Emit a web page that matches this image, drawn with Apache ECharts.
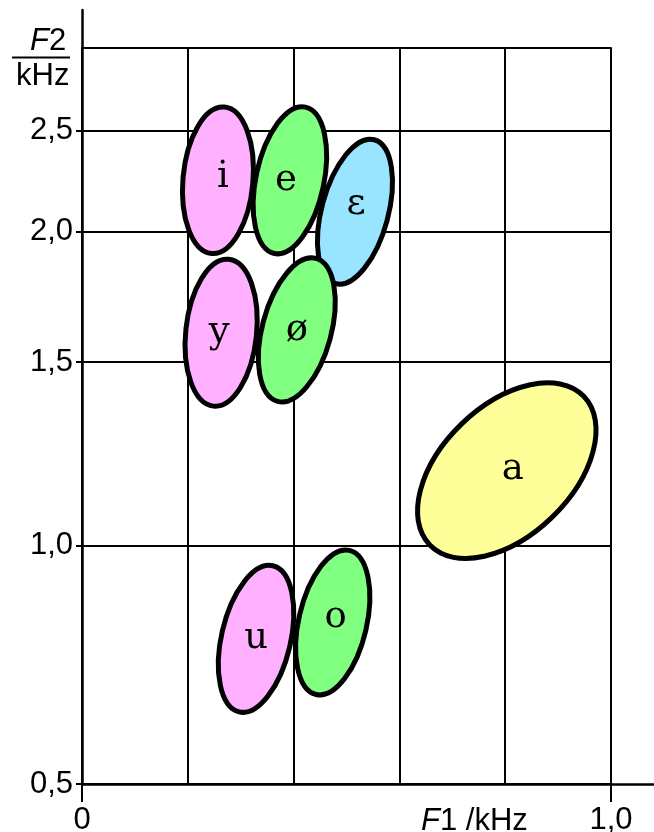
<!DOCTYPE html>
<html>
<head>
<meta charset="utf-8">
<script src="https://cdn.jsdelivr.net/npm/echarts@6/dist/echarts.min.js"></script>
<style>
  html, body { margin: 0; padding: 0; background: #fff; }
  #chart { width: 654px; height: 832px; }
</style>
</head>
<body>
<div id="chart"></div>
<script>
// Vowel formant regions: first formant F1 against second formant F2 (kHz)
const vowels = ['i', 'e', 'ɛ', 'y', 'ø', 'a', 'u', 'o'];
const f1Values = [0.257, 0.393, 0.516, 0.263, 0.406, 0.803, 0.329, 0.474];
const f2Values = [2.24, 2.24, 2.09, 1.60, 1.61, 1.18, 0.814, 0.844];

// Axis ticks
const f1Ticks = [0, 1.0];
const f1TickLabels = ['0', '1,0'];
const f2Floor = 0.5908;               // lower end of the F2 axis, labelled 0,5
const f2Top = 3.0;
const f2Ticks = [f2Floor, 1.0, 1.5, 2.0, 2.5];
const f2TickLabels = ['0,5', '1,0', '1,5', '2,0', '2,5'];

// Region appearance (pixel radii, rotation in degrees anticlockwise, label nudge in px)
const fills = ['#ffb0ff', '#80ff80', '#99e5ff', '#ffb0ff', '#80ff80', '#ffff99', '#ffb0ff', '#80ff80'];
const radiusX = [35, 34, 33.3, 35.4, 34.5, 107, 34.6, 34];
const radiusY = [73.5, 74.8, 74.5, 73.8, 74, 65, 75, 74];
const tiltDeg = [-5, -12, -15, -6, -15, 44, -13, -13];
const labelDx = [5, -4, 1, -2, 0, 6, 0, 3];
const labelDy = [-3, 0, -7, 0, 0, -1, 0, -5];

const chart = echarts.init(document.getElementById('chart'), null, { renderer: 'canvas' });

const sans = '"Liberation Sans", Arial, sans-serif';
const labelFont = { fontFamily: sans, fontSize: 31, color: '#000' };
const lineStyle = { color: '#000', width: 2 };

function tickLabel(values, labels) {
  return function (v) {
    let best = 0;
    for (let k = 1; k < values.length; k++) {
      if (Math.abs(values[k] - v) < Math.abs(values[best] - v)) best = k;
    }
    return labels[best];
  };
}

const gridLeft = 82, gridTop = 48, gridBottomY = 784, gridRightX = 611;
const titleStyle = {
  fontFamily: sans, fontSize: 31, color: '#000', fontWeight: 'normal',
  rich: { it: { fontStyle: 'italic', fontFamily: sans, fontSize: 31, color: '#000' } }
};

const option = {
  backgroundColor: '#fff',
  animation: false,
  title: [
    { text: '{it|F}1 /kHz', left: 416, top: 801, textStyle: titleStyle },
    { text: '{it|F}2', left: 25, top: 21, textStyle: titleStyle },
    { text: 'kHz', left: 11, top: 56, textStyle: titleStyle }
  ],
  graphic: [
    { type: 'line', shape: { x1: 12, y1: 57.5, x2: 70, y2: 57.5 }, style: { stroke: '#000', lineWidth: 2 } }
  ],
  grid: [
    { left: gridLeft, top: gridTop, width: gridRightX - gridLeft, height: gridBottomY - gridTop,
      containLabel: false, outerBoundsMode: 'none' },
    { left: gridLeft, top: 10, right: 0, bottom: 832 - gridBottomY,
      containLabel: false, outerBoundsMode: 'none' }
  ],
  xAxis: [
    { // F1 grid lines
      gridIndex: 0, type: 'value', min: 0, max: 1.0, interval: 0.2,
      axisLine: { show: false }, axisTick: { show: false }, axisLabel: { show: false },
      splitLine: { show: true, lineStyle: lineStyle }
    },
    { // F1 ticks and labels at the ends
      gridIndex: 0, type: 'value', position: 'bottom', min: 0, max: 1.0,
      axisLine: { show: false },
      axisTick: { show: true, customValues: f1Ticks, length: 18, lineStyle: lineStyle },
      axisLabel: { show: true, customValues: f1Ticks, margin: 21, formatter: tickLabel(f1Ticks, f1TickLabels), ...labelFont },
      splitLine: { show: false }
    },
    { // top border of the grid at F2 = 3,0
      gridIndex: 0, type: 'value', position: 'top', min: 0, max: 1.0,
      axisLine: { show: true, lineStyle: lineStyle }, axisTick: { show: false }, axisLabel: { show: false },
      splitLine: { show: false }
    },
    { // long F1 axis line
      gridIndex: 1, type: 'value', min: 0, max: (654 - gridLeft) / (gridRightX - gridLeft),
      axisLine: { show: true, lineStyle: { color: '#000', width: 2.5 } },
      axisTick: { show: false }, axisLabel: { show: false }, splitLine: { show: false }
    }
  ],
  yAxis: [
    {
      gridIndex: 0, type: 'log', logBase: 10, min: f2Floor, max: f2Top,
      axisLine: { show: false },
      axisTick: { show: true, customValues: f2Ticks, length: 6, lineStyle: lineStyle },
      axisLabel: { show: true, customValues: f2Ticks, margin: 9, formatter: tickLabel(f2Ticks, f2TickLabels), ...labelFont },
      splitLine: { show: true, lineStyle: lineStyle }
    },
    { // long F2 axis line
      gridIndex: 1, type: 'log', logBase: 10, min: f2Floor,
      max: Math.pow(10, Math.log10(f2Top) + (gridTop - 10) / ((gridBottomY - gridTop) / (Math.log10(f2Top) - Math.log10(f2Floor)))),
      axisLine: { show: true, lineStyle: { color: '#000', width: 2.5 } },
      axisTick: { show: false }, axisLabel: { show: false }, splitLine: { show: false }
    }
  ],
  series: [
    {
      type: 'custom',
      xAxisIndex: 0, yAxisIndex: 0,
      data: vowels.map((v, k) => [f1Values[k], f2Values[k]]),
      renderItem: function (params, api) {
        const k = params.dataIndex;
        const p = api.coord([api.value(0), api.value(1)]);
        return {
          type: 'group',
          children: [
            {
              type: 'ellipse',
              x: p[0], y: p[1],
              rotation: tiltDeg[k] * Math.PI / 180,
              shape: { cx: 0, cy: 0, rx: radiusX[k], ry: radiusY[k] },
              style: { fill: fills[k], stroke: '#000', lineWidth: 5 }
            },
            {
              type: 'text',
              x: p[0] + labelDx[k], y: p[1] + labelDy[k],
              style: {
                text: vowels[k], align: 'center', verticalAlign: 'middle',
                fontFamily: '"DejaVu Serif", serif', fontSize: 37, fill: '#000'
              }
            }
          ]
        };
      },
      z: 5
    }
  ]
};

chart.setOption(option);
</script>
</body>
</html>
